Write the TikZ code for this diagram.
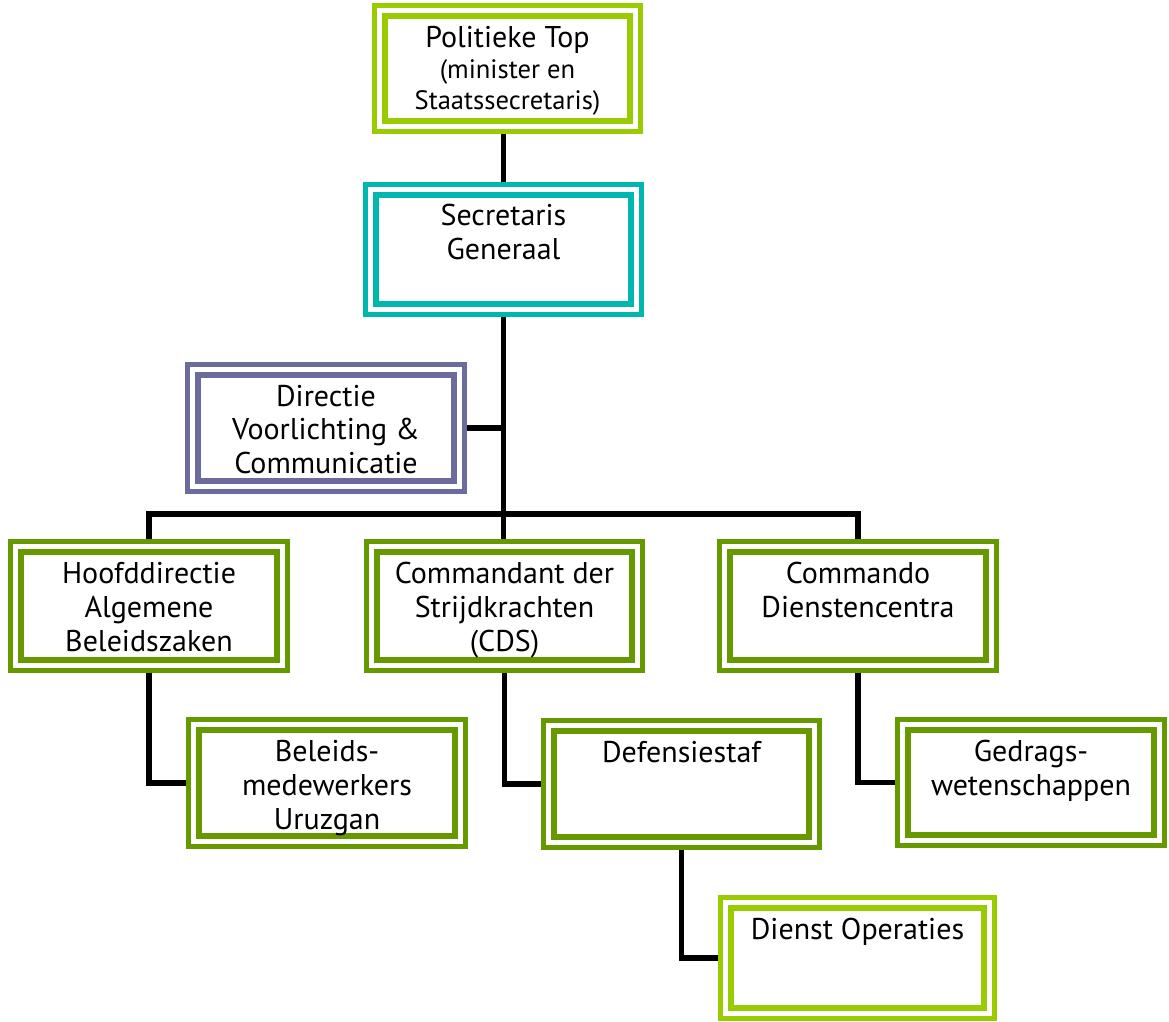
\documentclass[tikz,border=0pt]{standalone}
\usepackage{fontspec}
\setmainfont{PT Sans}
\definecolor{limeG}{RGB}{153,204,0}
\definecolor{tealC}{RGB}{0,183,176}
\definecolor{slateP}{RGB}{107,107,158}
\definecolor{oliveG}{RGB}{102,153,0}
\newcommand\boxtext[1]{\parbox[t]{150pt}{\centering #1}}
\tikzset{
  obox/.style={rectangle, draw=#1, line width=2.6pt, double=white, double distance=2.6pt,
    fill=white, inner sep=0pt, outer sep=3.9pt},
  conn/.style={line width=2.9pt, draw=black},
  btxt/.style={anchor=base, inner sep=0pt, font=\fontsize{15pt}{17pt}\selectfont}
}
\begin{document}
\begin{tikzpicture}[x=0.5pt, y=-0.5pt]
\useasboundingbox (0,0) rectangle (1169,1022);
% boxes
\node[obox=limeG,  minimum width=127.7pt, minimum height=57.7pt] (top)  at (507.5,68.5) {};
\node[obox=tealC,  minimum width=132.7pt, minimum height=59.7pt] (sec)  at (503.5,249.5) {};
\node[obox=slateP, minimum width=133.2pt, minimum height=58.2pt] (dir)  at (326,428) {};
\node[obox=oliveG, minimum width=133.2pt, minimum height=59.2pt] (hoofd) at (149,606) {};
\node[obox=oliveG, minimum width=132.7pt, minimum height=59.2pt] (com)  at (504.5,606) {};
\node[obox=oliveG, minimum width=133.2pt, minimum height=59.2pt] (cmdo) at (858,606) {};
\node[obox=oliveG, minimum width=133.2pt, minimum height=58.2pt] (bel)  at (327,783) {};
\node[obox=oliveG, minimum width=132.7pt, minimum height=58.2pt] (def)  at (681.5,784) {};
\node[obox=oliveG, minimum width=128.2pt, minimum height=57.7pt] (ged)  at (1031,782.5) {};
\node[obox=limeG,  minimum width=131.7pt, minimum height=55.2pt] (dienst) at (857.5,958) {};
% texts
\node[btxt] (ttop) at (507.5,48) {\boxtext{Politieke Top\\\fontsize{13.3pt}{15.5pt}\selectfont (minister en\\Staatssecretaris)}};
\node[btxt] (tsec) at (503.5,226) {\boxtext{Secretaris\\Generaal}};
\node[btxt] (tdir) at (326,406) {\boxtext{Directie\\Voorlichting \&\\Communicatie}};
\node[btxt] (thoofd) at (149,583) {\boxtext{Hoofddirectie\\Algemene\\Beleidszaken}};
\node[btxt] (tcom) at (504.5,583) {\boxtext{Commandant der\\Strijdkrachten\\(CDS)}};
\node[btxt] (tcmdo) at (858,583) {\boxtext{Commando\\Dienstencentra}};
\node[btxt] (tbel) at (327,761) {\boxtext{Beleids-\\medewerkers\\Uruzgan}};
\node[btxt] (tdef) at (681.5,762) {\boxtext{Defensiestaf}};
\node[btxt] (tged) at (1031,761) {\boxtext{Gedrags-\\wetenschappen}};
\node[btxt] (tdienst) at (857.5,939) {\boxtext{Dienst Operaties}};
% connectors
\draw[conn] (sec.north) -- (sec.north |- top.south);
\draw[conn] (sec.south) -- (sec.south |- com.north);
\draw[conn] (dir.east) -- (dir.east -| sec.south);
\draw[conn] (hoofd.north) -- (hoofd.north |- 0,514) -| (cmdo.north);
\draw[conn] (hoofd.south) |- (bel.west);
\draw[conn] (com.south) |- (def.west);
\draw[conn] (cmdo.south) |- (ged.west);
\draw[conn] (def.south) |- (dienst.west);
\end{tikzpicture}
\end{document}
